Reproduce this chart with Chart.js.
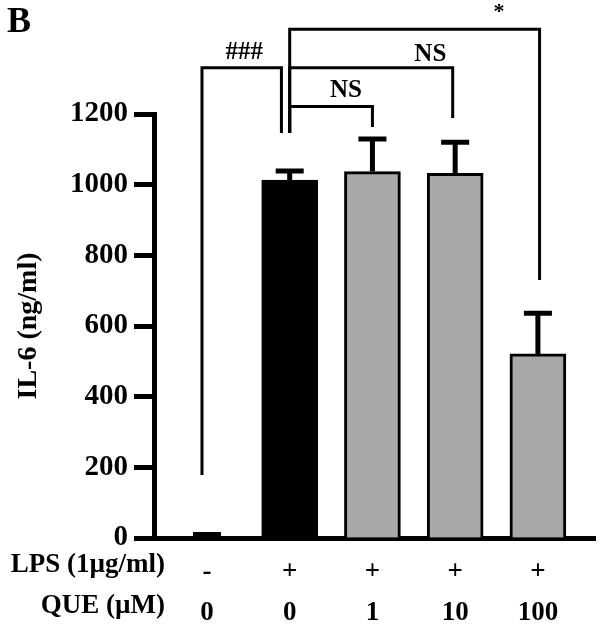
<!DOCTYPE html>
<html>
<head>
<meta charset="utf-8">
<script src="https://cdn.jsdelivr.net/npm/chart.js@4/dist/chart.umd.min.js"></script>
<style>
  body { margin: 0; background: #fff; }
</style>
</head>
<body>
<canvas id="chart" width="602" height="636"></canvas>
<script>
Chart.defaults.font.family = '"Liberation Serif", "Times New Roman", serif'
Chart.defaults.color = '#000'

// groups: LPS on/off and quercetin dose
const lpsLabels = ['-', '+', '+', '+', '+']
const queLabels = ['0', '0', '1', '10', '100']
const il6Means = [1, 1013, 1037, 1032, 521]
const il6Errors = [9, 26, 92, 88, 115]
const barColors = ['#000000', '#000000', '#a8a8a8', '#a8a8a8', '#a8a8a8']

// significance brackets: x in group index, heights in ng/ml
const bracketFrom = [-0.06, 1, 1, 1]
const bracketTo = [0.9, 2, 2.97, 4.02]
const bracketTop = [1331, 1221, 1331, 1440]
const bracketLeftEnd = [178, 1146, 1146, 1146]
const bracketRightEnd = [1146, 1163, 1189, 730]
const bracketText = ['###', 'NS', 'NS', '*']
const bracketTextX = [0.45, 1.68, 2.7, 3.53]
const bracketTextY = [1375, 1266, 1367, 1487]


const errorBars = {
    id: 'errorBars',
    afterDatasetsDraw(chart) {
        const ctx = chart.ctx
        const y = chart.scales.y
        const meta = chart.getDatasetMeta(0)
        ctx.save()
        ctx.strokeStyle = '#000'
        ctx.lineWidth = 5
        meta.data.forEach((bar, i) => {
            const top = y.getPixelForValue(il6Means[i] + il6Errors[i])
            ctx.beginPath()
            ctx.moveTo(bar.x, bar.y)
            ctx.lineTo(bar.x, top)
            ctx.moveTo(bar.x - 14, top)
            ctx.lineTo(bar.x + 14, top)
            ctx.stroke()
        })
        ctx.restore()
    }
}

const brackets = {
    id: 'brackets',
    afterDraw(chart) {
        const ctx = chart.ctx
        const x = chart.scales.x
        const y = chart.scales.y
        ctx.save()
        ctx.strokeStyle = '#000'
        ctx.lineWidth = 3
        bracketFrom.forEach((from, i) => {
            const x1 = x.getPixelForValue(from)
            const x2 = x.getPixelForValue(bracketTo[i])
            const top = y.getPixelForValue(bracketTop[i])
            ctx.beginPath()
            ctx.moveTo(x1, y.getPixelForValue(bracketLeftEnd[i]))
            ctx.lineTo(x1, top)
            ctx.lineTo(x2, top)
            ctx.lineTo(x2, y.getPixelForValue(bracketRightEnd[i]))
            ctx.stroke()
        })

        ctx.fillStyle = '#000'
        ctx.textAlign = 'center'
        ctx.textBaseline = 'middle'
        bracketText.forEach((txt, i) => {
            ctx.font = txt === '*' ? 'bold 22px "Liberation Serif"' : 'bold 25px "Liberation Serif"'
            ctx.fillText(txt, x.getPixelForValue(bracketTextX[i]), y.getPixelForValue(bracketTextY[i]))
        })

        // row titles under the x axis
        const area = chart.chartArea
        ctx.font = 'bold 27px "Liberation Serif"'
        ctx.textAlign = 'right'
        ctx.fillText('LPS (1µg/ml)', area.left + 11, area.bottom + 27)
        ctx.fillText('QUE (µM)', area.left + 11, area.bottom + 68)

        // panel letter
        ctx.font = 'bold 36px "Liberation Serif"'
        ctx.textAlign = 'left'
        ctx.textBaseline = 'top'
        ctx.fillText('B', 7, 5)
        ctx.restore()
    }
}


const data = {
    datasets: [{
        data: il6Means.map((v, i) => ({ x: i, y: v })),
        backgroundColor: barColors,
        borderColor: '#000',
        borderWidth: 3,
        barThickness: 56
    }]
}

let options = {
    responsive: false,
    animation: false,
    layout: {
        padding: { top: 114, right: 7, left: 0, bottom: 0 }
    },
    plugins: {
        legend: { display: false },
        tooltip: { enabled: false }
    },
    scales: {
        x: {
            type: 'linear',
            offset: false,
            min: -0.64,
            max: 4.69,
            afterFit: scale => { scale.height = 98 },
            afterBuildTicks: scale => {
                scale.ticks = lpsLabels.map((l, i) => ({ value: i }))
            },
            grid: { display: false, offset: false },
            border: { display: true, width: 5, color: '#000' },
            ticks: {
                padding: 6,
                maxRotation: 0,
                autoSkip: false,
                font: { size: 27, weight: 'bold', lineHeight: 41 / 27 },
                callback: value => [lpsLabels[value], queLabels[value]]
            }
        },
        y: {
            min: 0,
            max: 1200,
            afterFit: scale => { scale.width = 154 },
            grid: {
                drawOnChartArea: false,
                drawTicks: true,
                tickLength: 20,
                tickWidth: 5,
                tickColor: '#000'
            },
            border: { display: true, width: 5, color: '#000' },
            ticks: {
                stepSize: 200,
                padding: 6,
                font: { size: 29, weight: 'bold' },
                callback: value => String(value)
            },
            title: {
                display: true,
                text: 'IL-6 (ng/ml)',
                padding: { top: 12, bottom: 0 },
                font: { size: 28, weight: 'bold' }
            }
        }
    }
}

new Chart('chart', { type: 'bar', data, options, plugins: [errorBars, brackets] })
</script>
</body>
</html>
